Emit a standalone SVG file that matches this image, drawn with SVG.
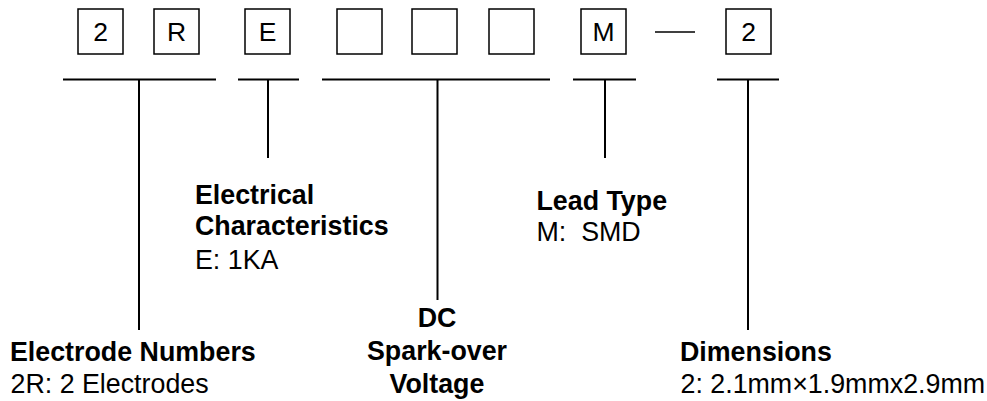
<svg xmlns="http://www.w3.org/2000/svg" width="987" height="401" viewBox="0 0 987 401">
<style>
  .box { fill: #fff; stroke: #000; stroke-width: 1.5; }
  .ln { stroke: #000; stroke-width: 2; fill: none; }
  .bt { font-family: "Liberation Sans", Arial, sans-serif; font-size: 26.5px; text-anchor: middle; fill: #000; }
  .hd { font-family: "Liberation Sans", Arial, sans-serif; font-size: 26.8px; font-weight: bold; fill: #000; }
  .tx { font-family: "Liberation Sans", Arial, sans-serif; font-size: 26.8px; fill: #000; }
</style>
<rect width="987" height="401" fill="#fff"/>
<g id="code-boxes">
  <g id="box-2"><rect class="box" x="78" y="9" width="45" height="45"/><text class="bt" x="100.5" y="40.5">2</text></g>
  <g id="box-R"><rect class="box" x="154" y="9" width="45" height="45"/><text class="bt" x="176.5" y="40.5">R</text></g>
  <g id="box-E"><rect class="box" x="245" y="9" width="45" height="45"/><text class="bt" x="267.5" y="40.5">E</text></g>
  <g id="box-v1"><rect class="box" x="337" y="9" width="45" height="45"/></g>
  <g id="box-v2"><rect class="box" x="412" y="9" width="45" height="45"/></g>
  <g id="box-v3"><rect class="box" x="489" y="9" width="45" height="45"/></g>
  <g id="box-M"><rect class="box" x="581" y="9" width="45" height="45"/><text class="bt" x="603.5" y="40.5">M</text></g>
  <g id="dash"><line x1="655" y1="32" x2="695" y2="32" stroke="#000" stroke-width="1.5"/></g>
  <g id="box-dim"><rect class="box" x="726" y="9" width="45" height="45"/><text class="bt" x="748.5" y="40.5">2</text></g>
</g>
<g id="connectors">
  <line class="ln" x1="63" y1="79.5" x2="216" y2="79.5"/>
  <line class="ln" x1="139" y1="79.5" x2="139" y2="330"/>
  <line class="ln" x1="238" y1="79.5" x2="299" y2="79.5"/>
  <line class="ln" x1="268" y1="79.5" x2="268" y2="158"/>
  <line class="ln" x1="322" y1="79.5" x2="550" y2="79.5"/>
  <line class="ln" x1="437.5" y1="79.5" x2="437.5" y2="300"/>
  <line class="ln" x1="573" y1="79.5" x2="636" y2="79.5"/>
  <line class="ln" x1="605" y1="79.5" x2="605" y2="158"/>
  <line class="ln" x1="717" y1="79.5" x2="779" y2="79.5"/>
  <line class="ln" x1="748" y1="79.5" x2="748" y2="330"/>
</g>
<g id="electrode-numbers">
  <text class="hd" x="10" y="360.5">Electrode Numbers</text>
  <text class="tx" x="10.5" y="392.5">2R: 2 Electrodes</text>
</g>
<g id="electrical-characteristics">
  <text class="hd" x="195" y="203.5">Electrical</text>
  <text class="hd" x="195" y="235">Characteristics</text>
  <text class="tx" x="195" y="269">E: 1KA</text>
</g>
<g id="dc-spark-over">
  <text class="hd" x="437" y="326.5" text-anchor="middle">DC</text>
  <text class="hd" x="437" y="360" text-anchor="middle">Spark-over</text>
  <text class="hd" x="437" y="393" text-anchor="middle">Voltage</text>
</g>
<g id="lead-type">
  <text class="hd" x="536.5" y="209.5">Lead Type</text>
  <text class="tx" x="536.5" y="240.5" xml:space="preserve">M:  SMD</text>
</g>
<g id="dimensions">
  <text class="hd" x="680" y="360.5">Dimensions</text>
  <text class="tx" x="680.5" y="392.5">2: 2.1mm×1.9mmx2.9mm</text>
</g>
</svg>
